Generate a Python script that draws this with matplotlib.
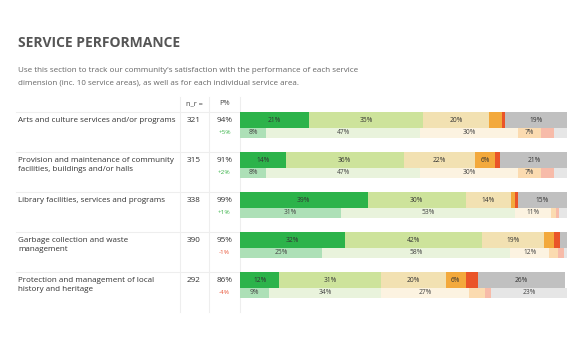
import numpy as np
import matplotlib
matplotlib.use("Agg")
import matplotlib.pyplot as plt

plt.rcParams['font.family'] = ['Open Sans', 'DejaVu Sans']

services = ["Arts and culture services and/or programs",
            "Provision and maintenance of community\nfacilities, buildings and/or halls",
            "Library facilities, services and programs",
            "Garbage collection and waste\nmanagement",
            "Protection and management of local\nhistory and heritage"]
n_r = [321, 315, 338, 390, 292]
p_pct = ["94%", "91%", "99%", "95%", "86%"]
change = ["+5%", "+2%", "+1%", "-1%", "-4%"]

# current period, stacked shares (%)
top_vals = [[21, 35, 20, 4, 1, 19],
            [14, 36, 22, 6, 1.6, 21],
            [39, 30, 14, 1, 1, 15],
            [32, 42, 19, 3, 2, 2.3],
            [12, 31, 20, 6, 3.9, 26.4]]
# comparison period
bot_vals = [[8, 47, 30, 7, 4, 4.5],
            [8, 47, 30, 7, 4, 5],
            [31, 53, 11, 1.6, 1, 3],
            [25, 57.6, 12, 2.5, 2, 2],
            [9, 34, 27, 5, 1.8, 23.1]]

top_cols = ["#2cb34a", "#cde39b", "#f2e1b2", "#f3a93c", "#ea5428", "#c0c0c0"]
bot_cols = ["#ade0b7", "#e9f3dc", "#fcf3e1", "#fbdbb0", "#f7bba9", "#e6e6e6"]

W, H = 580, 362
fig = plt.figure(figsize=(W / 100, H / 100), dpi=100)

# overlay axes in pixel coordinates for text and grid lines
ov = fig.add_axes([0, 0, 1, 1])
ov.set_xlim(0, W)
ov.set_ylim(H, 0)
ov.axis("off")

ov.text(18, 43, "SERVICE PERFORMANCE", fontsize=10, fontweight="bold",
        color="#555555", va="center", ha="left")
ov.text(18, 71, "Use this section to track our community's satisfaction with the performance of each service",
        fontsize=5.75, color="#666666", va="center")
ov.text(18, 82.5, "dimension (inc. 10 service areas), as well as for each individual service area.",
        fontsize=5.75, color="#666666", va="center")

row_top = 112
row_h = 40
n_rows = len(services)
line_c = "#eeeeee"
for x in [180, 209, 240]:
    ov.plot([x, x], [97, row_top + row_h * n_rows], color=line_c, lw=0.8)
for i in range(n_rows):
    y = row_top + row_h * i
    ov.plot([16, 240], [y, y], color=line_c, lw=0.8)

ov.text(194, 103.5, "n_r =", fontsize=5.3, color="#444444", ha="center", va="center")
ov.text(224.5, 103.5, "P%", fontsize=5.3, color="#444444", ha="center", va="center")

for i in range(n_rows):
    y = row_top + row_h * i
    ov.text(18, y + 4.5, services[i], fontsize=5.75, color="#333333", va="top",
            ha="left", linespacing=1.45)
    ov.text(194, y + 8.5, str(n_r[i]), fontsize=5.9, color="#333333", ha="center", va="center")
    ov.text(224.5, y + 8.5, p_pct[i], fontsize=5.9, color="#333333", ha="center", va="center")
    c = "#3cb44b" if change[i].startswith("+") else "#e9573a"
    ov.text(224.5, y + 20, change[i], fontsize=4.6, color=c, ha="center", va="center")

# bar axes
x0, x1 = 240, 567
y0, y1 = row_top, row_top + row_h * n_rows
ax = fig.add_axes([x0 / W, 1 - y1 / H, (x1 - x0) / W, (y1 - y0) / H])
ax.set_xlim(0, 100)
ax.set_ylim(n_rows, 0)
ax.axis("off")

top_h = 16 / row_h
bot_h = 10 / row_h
for i in range(n_rows):
    left = 0
    for v, col in zip(top_vals[i], top_cols):
        ax.barh(i, v, left=left, height=top_h, align="edge", color=col, lw=0)
        if v >= 6:
            ax.text(left + v / 2, i + top_h / 2, f"{v:.0f}%", fontsize=4.8,
                    color="#333333", ha="center", va="center")
        left += v
    left = 0
    for v, col in zip(bot_vals[i], bot_cols):
        ax.barh(i + top_h, v, left=left, height=bot_h, align="edge", color=col, lw=0)
        if v >= 6:
            ax.text(left + v / 2, i + top_h + bot_h / 2, f"{v:.0f}%", fontsize=4.8,
                    color="#444444", ha="center", va="center")
        left += v

fig.savefig("out.png", dpi=100, facecolor="white")
